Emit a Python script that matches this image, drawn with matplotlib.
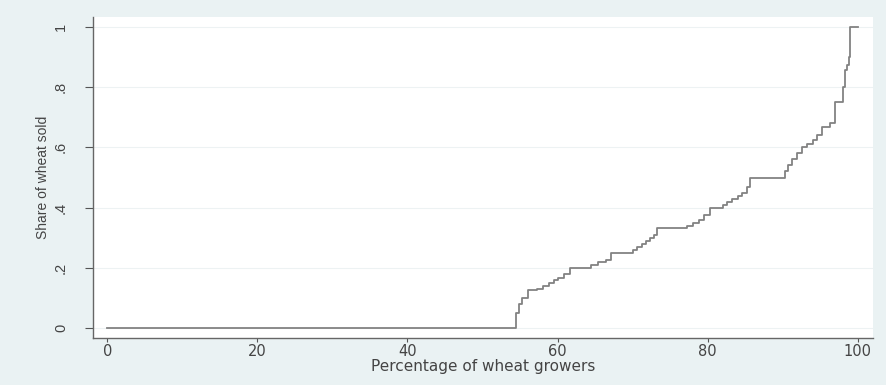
import matplotlib
matplotlib.use("Agg")
import matplotlib.pyplot as plt

# Step points: share of wheat sold starting at each percentage of growers
pct_growers = [0, 54.5, 54.8, 55.3, 56.0, 57.2, 58.0, 58.8, 59.5, 60.0, 60.8, 61.6,
               64.5, 65.4, 66.5, 67.1, 70.0, 70.6, 71.2, 71.8, 72.3, 72.8, 73.3,
               77.3, 78.0, 78.8, 79.5, 80.3, 82.0, 82.6, 83.2, 84.0, 84.6, 85.2, 85.6,
               90.3, 90.7, 91.3, 91.9, 92.5, 93.2, 94.0, 94.6, 95.2, 96.3, 96.9,
               98.0, 98.3, 98.5, 98.8, 98.9, 100.0]
share_sold = [0, 0.05, 0.08, 0.10, 0.125, 0.13, 0.14, 0.15, 0.16, 0.167, 0.18, 0.2,
              0.21, 0.22, 0.225, 0.25, 0.26, 0.27, 0.28, 0.29, 0.30, 0.31, 0.333,
              0.34, 0.35, 0.36, 0.375, 0.4, 0.41, 0.42, 0.43, 0.44, 0.45, 0.47, 0.5,
              0.52, 0.54, 0.56, 0.58, 0.6, 0.61, 0.625, 0.64, 0.667, 0.68, 0.75,
              0.8, 0.857, 0.875, 0.9, 1.0, 1.0]

x_ticks = [0, 20, 40, 60, 80, 100]
y_ticks = [0, 0.2, 0.4, 0.6, 0.8, 1.0]
y_tick_labels = ["0", ".2", ".4", ".6", ".8", "1"]

plt.rcParams['font.family'] = ['Liberation Sans', 'DejaVu Sans']

bg = "#eaf2f3"
fig = plt.figure(figsize=(8.87, 3.85), dpi=100, facecolor=bg)
ax = fig.add_axes([0.1048, 0.1221, 0.8792, 0.8337])
ax.set_facecolor("white")

ax.step(pct_growers, share_sold, where="post", color="#828282", linewidth=1.3)

ax.set_xlim(-1.9, 102)
ax.set_ylim(-0.033, 1.033)
ax.set_xticks(x_ticks)
ax.set_xticklabels([str(t) for t in x_ticks], family=['DejaVu Sans'], fontsize=10.5)
ax.set_yticks(y_ticks)
ax.set_yticklabels(y_tick_labels, rotation=90, va="center", fontsize=10.5)
ax.tick_params(axis="both", colors="#555555", labelcolor="#444444",
               direction="out", width=0.8)
ax.tick_params(axis="x", length=3, pad=1.5)
ax.tick_params(axis="y", length=6, pad=12)

ax.grid(axis="y", color="#edf2f3", linewidth=0.8)
ax.set_axisbelow(True)

for s in ["top", "right"]:
    ax.spines[s].set_visible(False)
for s in ["left", "bottom"]:
    ax.spines[s].set_color("#666666")
    ax.spines[s].set_linewidth(1.0)

ax.set_xlabel("Percentage of wheat growers", fontsize=11, color="#444444",
              labelpad=0, family=['DejaVu Sans'])
ax.set_ylabel("Share of wheat sold", fontsize=10, color="#444444", labelpad=3)

fig.savefig("out.png", dpi=100, facecolor=bg)
